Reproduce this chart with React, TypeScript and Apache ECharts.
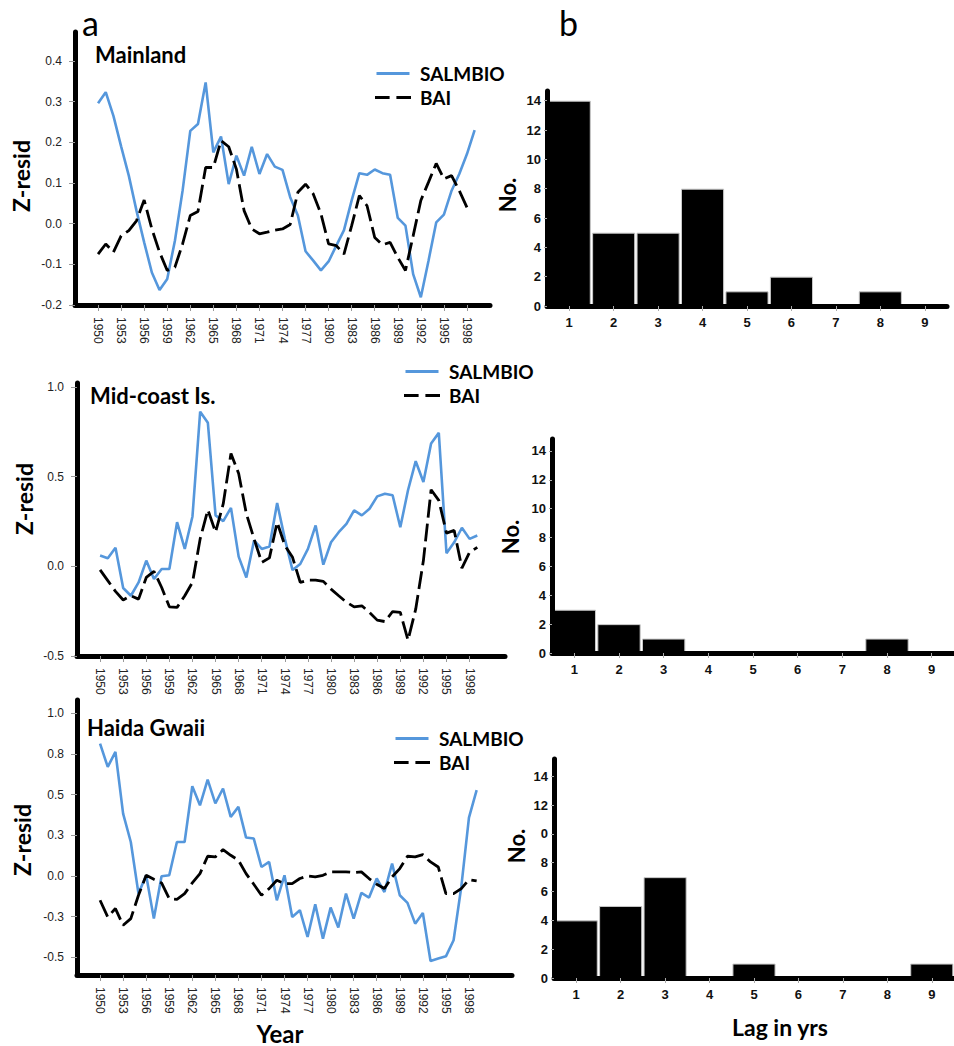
import React, { useEffect, useRef } from 'react';
import * as echarts from 'echarts';

// ---------- DATA ----------
const YEARS = [
  1950, 1951, 1952, 1953, 1954, 1955, 1956, 1957, 1958, 1959,
  1960, 1961, 1962, 1963, 1964, 1965, 1966, 1967, 1968, 1969,
  1970, 1971, 1972, 1973, 1974, 1975, 1976, 1977, 1978, 1979,
  1980, 1981, 1982, 1983, 1984, 1985, 1986, 1987, 1988, 1989,
  1990, 1991, 1992, 1993, 1994, 1995, 1996, 1997, 1998, 1999,
];
const YEAR_TICKS = [1950, 1953, 1956, 1959, 1962, 1965, 1968, 1971, 1974, 1977, 1980, 1983, 1986, 1989, 1992, 1995, 1998];

const MAIN_SALMBIO = [
  0.296, 0.323, 0.265, 0.19, 0.118, 0.032, -0.046, -0.12, -0.163, -0.136,
  -0.042, 0.081, 0.228, 0.245, 0.347, 0.175, 0.214, 0.097, 0.167, 0.118,
  0.189, 0.122, 0.171, 0.14, 0.132, 0.065, 0.02, -0.068, -0.091, -0.115,
  -0.093, -0.054, -0.016, 0.057, 0.124, 0.12, 0.133, 0.124, 0.12, 0.014,
  -0.005, -0.124, -0.181, -0.091, 0.003, 0.022, 0.081, 0.122, 0.171, 0.23,
];
const MAIN_BAI = [
  -0.075, -0.05, -0.07, -0.03, -0.017, 0.007, 0.058, -0.013, -0.07, -0.115,
  -0.107, -0.05, 0.02, 0.03, 0.138, 0.138, 0.204, 0.189, 0.134, 0.032,
  -0.013, -0.025, -0.021, -0.016, -0.013, -0.002, 0.077, 0.097, 0.073, 0.024,
  -0.05, -0.054, -0.075, -0.005, 0.069, 0.044, -0.034, -0.052, -0.046, -0.083,
  -0.115, -0.03, 0.057, 0.102, 0.148, 0.11, 0.118, 0.081, 0.04,
];
const MID_SALMBIO = [
  0.06, 0.045, 0.103, -0.121, -0.164, -0.09, 0.032, -0.071, -0.015, -0.015,
  0.246, 0.097, 0.278, 0.862, 0.8, 0.284, 0.252, 0.326, 0.054, -0.062,
  0.144, 0.097, 0.11, 0.353, 0.153, -0.021, 0.013, 0.097, 0.228, 0.009,
  0.134, 0.19, 0.237, 0.312, 0.284, 0.321, 0.39, 0.405, 0.396, 0.218,
  0.424, 0.586, 0.47, 0.685, 0.744, 0.073, 0.134, 0.215, 0.153, 0.172,
];
const MID_BAI = [
  -0.02, -0.08, -0.14, -0.188, -0.164, -0.183, -0.062, -0.028, -0.118, -0.226,
  -0.229, -0.164, -0.09, 0.153, 0.315, 0.19, 0.349, 0.629, 0.517, 0.293,
  0.153, 0.022, 0.047, 0.246, 0.116, 0.05, -0.09, -0.077, -0.077, -0.084,
  -0.127, -0.164, -0.2, -0.226, -0.22, -0.257, -0.3, -0.308, -0.252, -0.257,
  -0.412, -0.239, 0.032, 0.427, 0.368, 0.185, 0.2, -0.01, 0.078, 0.106,
];
const HAIDA_SALMBIO = [
  0.815, 0.671, 0.764, 0.384, 0.209, -0.109, 0.004, -0.263, -0.002, 0.004,
  0.209, 0.209, 0.552, 0.435, 0.593, 0.446, 0.538, 0.363, 0.425, 0.236,
  0.23, 0.055, 0.086, -0.15, 0.004, -0.253, -0.211, -0.376, -0.175, -0.386,
  -0.195, -0.318, -0.109, -0.263, -0.105, -0.133, -0.016, -0.099, 0.076, -0.119,
  -0.166, -0.294, -0.228, -0.524, -0.509, -0.495, -0.396, -0.068, 0.359, 0.528,
];
const HAIDA_BAI = [
  -0.15, -0.253, -0.201, -0.304, -0.263, -0.119, 0.004, -0.021, -0.043, -0.14,
  -0.144, -0.109, -0.043, 0.014, 0.121, 0.117, 0.162, 0.127, 0.097, 0.014,
  -0.051, -0.119, -0.078, -0.027, -0.047, -0.047, -0.016, 0, -0.006, 0.004,
  0.025, 0.025, 0.025, 0.021, 0.025, -0.016, -0.051, -0.078, -0.006, 0.045,
  0.121, 0.117, 0.131, 0.086, 0.055, -0.109, -0.109, -0.078, -0.023, -0.031,
];

const MAIN_Y_TICKS = [-0.2, -0.1, 0, 0.1, 0.2, 0.3, 0.4];
const MAIN_Y_LABELS = ['-0.2', '-0.1', '0.0', '0.1', '0.2', '0.3', '0.4'];
const MID_Y_TICKS = [-0.5, 0, 0.5, 1.0];
const MID_Y_LABELS = ['-0.5', '0.0', '0.5', '1.0'];
const HAIDA_Y_TICKS = [-0.5, -0.25, 0, 0.25, 0.5, 0.75, 1.0];
const HAIDA_Y_LABELS = ['-0.5', '-0.3', '0.0', '0.3', '0.5', '0.8', '1.0'];

const LAGS = ['1', '2', '3', '4', '5', '6', '7', '8', '9'];
const MAIN_LAG_COUNTS = [14, 5, 5, 8, 1, 2, 0, 1, 0];
const MID_LAG_COUNTS = [3, 2, 1, 0, 0, 0, 0, 1, 0];
const HAIDA_LAG_COUNTS = [4, 5, 7, 0, 1, 0, 0, 0, 1];
const COUNT_TICKS = [0, 2, 4, 6, 8, 10, 12, 14];
const MAIN_COUNT_LABELS = ['0', '2', '4', '6', '8', '10', '12', '14'];
const MID_COUNT_LABELS = ['0', '2', '4', '6', '8', '10', '12', '14'];
const HAIDA_COUNT_LABELS = ['0', '2', '4', '6', '8', '0', '12', '14'];

// ---------- STYLE ----------
const TITLE_FONT = 'Lato, "Open Sans", sans-serif';
const TICK_FONT = '"Liberation Sans", Arial, sans-serif';
const BLUE = '#5597dc';
const SOLID_ICON = 'path://M0,0L33,0L33,3L0,3Z';
const DASH_ICON = 'path://M0,0L15,0L15,3L0,3Z M22,0L37,0L37,3L22,3Z';

const lookup = (ticks: number[], labels: string[]) => (v: number) => {
  const i = ticks.findIndex((t) => Math.abs(t - v) < 1e-9);
  return i >= 0 ? labels[i] : '';
};

const pairs = (vals: number[]) => vals.map((v, i) => [YEARS[i], v]);

function lineXAxis(gridIndex: number, max: number) {
  return {
    type: 'value', gridIndex, min: 1947, max, z: 5,
    axisLine: { show: true, onZero: false, lineStyle: { color: '#000', width: 5 } },
    axisTick: { show: true, customValues: YEAR_TICKS, length: 6, lineStyle: { color: '#999', width: 1 } },
    axisLabel: {
      show: true, customValues: YEAR_TICKS, rotate: -90, margin: 12,
      fontSize: 12, color: '#222', fontFamily: TICK_FONT, formatter: (v: number) => String(v),
    },
    splitLine: { show: false },
  };
}

function lineYAxis(gridIndex: number, min: number, max: number, ticks: number[], labels: string[]) {
  return {
    type: 'value', gridIndex, min, max, z: 5,
    axisLine: { show: true, onZero: false, lineStyle: { color: '#000', width: 5 } },
    axisTick: { show: true, customValues: ticks, length: 6, lineStyle: { color: '#999', width: 1 } },
    axisLabel: {
      show: true, customValues: ticks, margin: 13, fontSize: 12, color: '#222',
      fontFamily: TICK_FONT, formatter: lookup(ticks, labels),
    },
    splitLine: { show: false },
  };
}

function barXAxis(gridIndex: number) {
  return {
    type: 'category', gridIndex, data: LAGS, z: 5,
    axisLine: { show: true, lineStyle: { color: '#000', width: 5 } },
    axisTick: { show: true, alignWithLabel: true, length: 5, lineStyle: { color: '#aaa', width: 1 } },
    axisLabel: { margin: 10, fontSize: 13, fontWeight: 'bold', color: '#111', fontFamily: TICK_FONT },
    splitLine: { show: false },
  };
}

function barYAxis(gridIndex: number, max: number, labels: string[]) {
  return {
    type: 'value', gridIndex, min: 0, max, z: 5,
    axisLine: { show: true, lineStyle: { color: '#000', width: 5 } },
    axisTick: { show: true, customValues: COUNT_TICKS, length: 3, lineStyle: { color: '#aaa', width: 1 } },
    axisLabel: {
      show: true, customValues: COUNT_TICKS, margin: 6, fontSize: 13, fontWeight: 'bold',
      color: '#111', fontFamily: TICK_FONT, formatter: lookup(COUNT_TICKS, labels),
    },
    splitLine: { show: false },
  };
}

function salmSeries(idx: number, vals: number[]) {
  return {
    name: 'SALMBIO', type: 'line', xAxisIndex: idx, yAxisIndex: idx, data: pairs(vals),
    symbol: 'none', lineStyle: { color: BLUE, width: 2.6 }, itemStyle: { color: BLUE }, z: 3,
  };
}
function baiSeries(idx: number, vals: number[]) {
  return {
    name: 'BAI', type: 'line', xAxisIndex: idx, yAxisIndex: idx, data: pairs(vals),
    symbol: 'none', lineStyle: { color: '#000', width: 2.8, type: [18, 6] }, itemStyle: { color: '#000' }, z: 4,
  };
}
function barSeries(idx: number, vals: number[], name: string) {
  return {
    name, type: 'bar', xAxisIndex: idx, yAxisIndex: idx, data: vals, barCategoryGap: '3%',
    itemStyle: { color: '#000', borderColor: '#c8c8c8', borderWidth: 1 },
  };
}

function legend(left: number, top: number) {
  return {
    left, top, orient: 'vertical', itemWidth: 36, itemHeight: 3, itemGap: 5, selectedMode: false,
    data: [
      { name: 'SALMBIO', icon: SOLID_ICON, itemStyle: { color: BLUE, borderWidth: 0 } },
      { name: 'BAI', icon: DASH_ICON, itemStyle: { color: '#000', borderWidth: 0 } },
    ],
    textStyle: { fontFamily: TITLE_FONT, fontWeight: 'bold', fontSize: 19, color: '#000', padding: [0, 0, 0, 4] },
  };
}

function text(t: string, x: number, y: number, size: number, opts: any = {}) {
  return {
    type: 'text', x, y, rotation: opts.rotation || 0, z: 10,
    style: {
      text: t, fontSize: size, fontWeight: opts.weight || 'bold', fontFamily: TITLE_FONT,
      fill: '#000', align: opts.align || 'left', verticalAlign: opts.valign || 'middle',
    },
  };
}

export default function App() {
  const ref = useRef<HTMLDivElement>(null);
  useEffect(() => {
    document.body.style.margin = '0';
    if (!ref.current) return;
    const chart = echarts.init(ref.current, null, { renderer: 'svg' });
    const R = Math.PI / 2;
    chart.setOption({
      animation: false,
      backgroundColor: '#fff',
      grid: [
        { left: 75, top: 32, width: 415, height: 273 },
        { left: 77, top: 383, width: 428, height: 273 },
        { left: 77, top: 700, width: 435, height: 275 },
        { left: 547, top: 91, width: 400, height: 215 },
        { left: 552, top: 439, width: 402, height: 214 },
        { left: 554, top: 759, width: 400, height: 219 },
      ],
      xAxis: [
        lineXAxis(0, 2001),
        lineXAxis(1, 2002.6),
        lineXAxis(2, 2003.6),
        barXAxis(3),
        barXAxis(4),
        barXAxis(5),
      ],
      yAxis: [
        lineYAxis(0, -0.2, 0.471, MAIN_Y_TICKS, MAIN_Y_LABELS),
        lineYAxis(1, -0.5, 1.022, MID_Y_TICKS, MID_Y_LABELS),
        lineYAxis(2, -0.61, 1.083, HAIDA_Y_TICKS, HAIDA_Y_LABELS),
        barYAxis(3, 14.66, MAIN_COUNT_LABELS),
        barYAxis(4, 14.83, MID_COUNT_LABELS),
        barYAxis(5, 15.2, HAIDA_COUNT_LABELS),
      ],
      legend: [legend(370, 59), legend(399, 357), legend(389, 724)],
      series: [
        salmSeries(0, MAIN_SALMBIO), baiSeries(0, MAIN_BAI),
        salmSeries(1, MID_SALMBIO), baiSeries(1, MID_BAI),
        salmSeries(2, HAIDA_SALMBIO), baiSeries(2, HAIDA_BAI),
        barSeries(3, MAIN_LAG_COUNTS, 'Mainland lag'),
        barSeries(4, MID_LAG_COUNTS, 'Mid-coast lag'),
        barSeries(5, HAIDA_LAG_COUNTS, 'Haida Gwaii lag'),
      ],
      graphic: [
        text('a', 82, 22, 34, { weight: 'normal' }),
        text('b', 559, 22, 34, { weight: 'normal' }),
        text('Mainland', 95, 54, 22),
        text('Mid-coast Is.', 90, 395, 22),
        text('Haida Gwaii', 87, 727, 22),
        text('Z-resid', 21, 176, 23, { rotation: R, align: 'center' }),
        text('Z-resid', 24, 499, 23, { rotation: R, align: 'center' }),
        text('Z-resid', 22, 840, 23, { rotation: R, align: 'center' }),
        text('No.', 507, 195, 22, { rotation: R, align: 'center' }),
        text('No.', 510, 537, 22, { rotation: R, align: 'center' }),
        text('No.', 516, 846, 22, { rotation: R, align: 'center' }),
        text('Year', 280, 1033, 24, { align: 'center' }),
        text('Lag in yrs', 780, 1027, 23, { align: 'center' }),
      ],
    });
    return () => chart.dispose();
  }, []);
  return <div ref={ref} style={{ width: 954, height: 1046 }} />;
}
